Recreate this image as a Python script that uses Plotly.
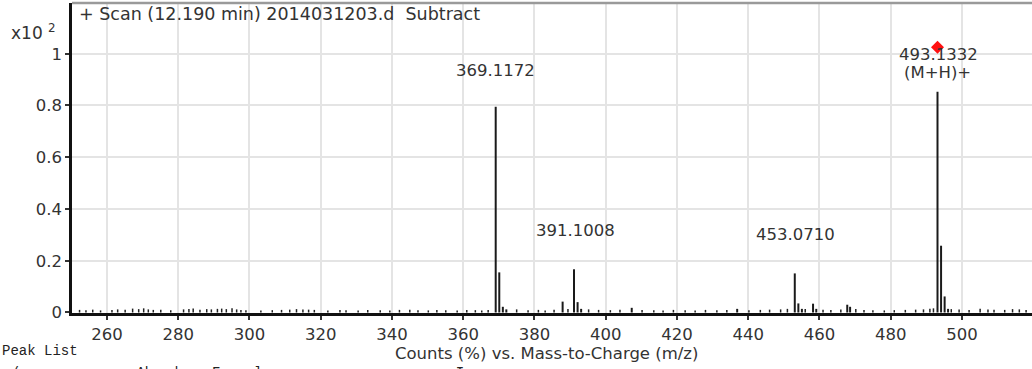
import plotly.graph_objects as go

# ---------------- data ----------------
peak_mz = [369.1172, 370.1205, 371.12, 372.1, 387.9, 391.1008, 392.104, 393.1,
           407.3, 436.9, 453.0710, 454.074, 455.07, 458.2, 459.1, 467.8, 468.6,
           493.1332, 494.1365, 495.135, 496.1]
peak_abund = [0.795, 0.155, 0.022, 0.012, 0.042, 0.167, 0.040, 0.014,
              0.018, 0.014, 0.151, 0.035, 0.014, 0.034, 0.014, 0.030, 0.022,
              0.853, 0.258, 0.062, 0.014]

noise_mz = [252.3, 254.1, 256.0, 258.2, 261.4, 263.0, 265.1, 267.2, 268.9, 270.3,
            271.6, 273.0, 275.1, 277.9, 281.5, 283.0, 284.2, 286.1, 288.0, 289.3,
            291.0, 292.2, 293.5, 295.1, 296.4, 297.6, 299.0, 303.2, 306.4, 309.0,
            311.3, 313.2, 315.0, 316.6, 318.2, 322.0, 325.4, 327.1, 330.5, 333.2,
            336.7, 339.4, 342.1, 345.0, 347.3, 350.2, 352.6, 355.1, 358.3, 361.0,
            363.4, 365.2, 367.0, 375.0, 378.2, 381.1, 383.0, 385.5, 389.4, 395.2,
            398.0, 401.3, 404.0, 410.2, 413.5, 416.1, 419.0, 422.3, 425.1, 428.0,
            431.2, 434.0, 440.2, 443.4, 446.0, 449.1, 451.0, 456.0, 461.0, 463.2,
            466.0, 470.2, 472.5, 475.0, 478.2, 481.0, 484.1, 487.0, 489.2, 491.0,
            492.0, 497.0, 499.2, 502.0, 505.1, 507.3, 509.0, 512.0, 514.2, 516.1, 518.0]
noise_abund = [0.010, 0.009, 0.011, 0.008, 0.010, 0.012, 0.011, 0.015, 0.013, 0.016,
               0.012, 0.010, 0.011, 0.009, 0.012, 0.013, 0.015, 0.011, 0.013, 0.012,
               0.014, 0.015, 0.013, 0.016, 0.012, 0.010, 0.009, 0.008, 0.009, 0.010,
               0.011, 0.013, 0.012, 0.011, 0.010, 0.008, 0.010, 0.009, 0.008, 0.010,
               0.009, 0.008, 0.010, 0.011, 0.009, 0.008, 0.010, 0.009, 0.008, 0.010,
               0.009, 0.008, 0.010, 0.012, 0.009, 0.010, 0.008, 0.011, 0.013, 0.012,
               0.010, 0.009, 0.011, 0.010, 0.009, 0.008, 0.010, 0.009, 0.008, 0.010,
               0.009, 0.010, 0.009, 0.010, 0.011, 0.012, 0.014, 0.013, 0.011, 0.010,
               0.012, 0.013, 0.010, 0.009, 0.008, 0.009, 0.010, 0.011, 0.012, 0.014,
               0.016, 0.013, 0.012, 0.010, 0.014, 0.012, 0.011, 0.010, 0.013, 0.012, 0.010]

labels_mz = [369.1172, 391.1008, 453.0710, 493.1332, 493.1332]
labels_abund = [0.795, 0.167, 0.151, 0.853, 0.853]
labels_text = ["369.1172", "391.1008", "453.0710", "493.1332", "(M+H)+"]
labels_xshift = [0, 1, 1, 1, 0]
labels_yshift = [25, 27, 27, 26, 8]

marker_mz = [493.1332]
marker_abund = [1.025]

x_ticks = [260, 280, 300, 320, 340, 360, 380, 400, 420, 440, 460, 480, 500]
y_ticks = [0, 0.2, 0.4, 0.6, 0.8, 1]
y_ticklabels = ["0", "0.2", "0.4", "0.6", "0.8", "1"]

title_text = "+ Scan (12.190 min) 2014031203.d  Subtract"
xaxis_title = "Counts (%) vs. Mass-to-Charge (m/z)"

# ---------------- figure ----------------
FONT = "DejaVu Sans, Liberation Sans, Arial, sans-serif"
TXT = "#333333"


def sticks(mz, ab):
    xs, ys = [], []
    for m, a in zip(mz, ab):
        xs += [m, m, None]
        ys += [0, a, None]
    return xs, ys


fig = go.Figure()
nx, ny = sticks(noise_mz, noise_abund)
fig.add_trace(go.Scatter(x=nx, y=ny, mode="lines",
                         line=dict(color="#222222", width=1.5), hoverinfo="skip",
                         showlegend=False))
px_, py_ = sticks(peak_mz, peak_abund)
fig.add_trace(go.Scatter(x=px_, y=py_, mode="lines",
                         line=dict(color="#1a1a1a", width=2), hoverinfo="skip",
                         showlegend=False))
fig.add_trace(go.Scatter(x=marker_mz, y=marker_abund, mode="markers",
                         marker=dict(symbol="diamond", color="#ff1010", size=10),
                         showlegend=False, hoverinfo="skip"))

for m, a, t, xs, ys in zip(labels_mz, labels_abund, labels_text, labels_xshift,
                           labels_yshift):
    fig.add_annotation(x=m, y=a, text=t, showarrow=False, xshift=xs,
                       yanchor="bottom", yshift=ys,
                       font=dict(family=FONT, size=16.5, color=TXT))

# title inside plot
fig.add_annotation(xref="paper", yref="paper", x=0.005, y=0.9645, text=title_text,
                   showarrow=False, xanchor="left", yanchor="middle",
                   font=dict(family=FONT, size=17.5, color=TXT))
# y multiplier
fig.add_annotation(xref="paper", yref="paper", x=-0.066, y=0.905,
                   text="x10 <sup>2</sup>", showarrow=False, xanchor="left",
                   yanchor="middle", font=dict(family=FONT, size=17, color=TXT))
# x axis title
fig.add_annotation(xref="paper", yref="paper", x=0.494, y=-0.13, text=xaxis_title,
                   showarrow=False, xanchor="center", yanchor="middle",
                   font=dict(family=FONT, size=16.5, color=TXT))
# Peak list header
fig.add_annotation(xref="paper", yref="paper", x=-0.075, y=-0.122, text="Peak List",
                   showarrow=False, xanchor="left", yanchor="middle",
                   font=dict(family="Liberation Mono, Courier New, monospace",
                             size=14, color="#222222"))
fig.add_annotation(xref="paper", yref="paper", x=-0.075, y=-0.162,
                   text="m/z          z  Abund    Formula                      Ion",
                   showarrow=False, xanchor="left", yanchor="top",
                   font=dict(family="Liberation Mono, Courier New, monospace",
                             size=14, color="#222222"))

# top border
fig.add_shape(type="line", xref="paper", yref="paper", x0=0, x1=1, y0=1, y1=1,
              line=dict(color="#9a9a9a", width=2.5))

fig.update_xaxes(range=[250.18, 519.66], tickvals=x_ticks,
                 showgrid=True, gridcolor="#e4e4e4", gridwidth=2,
                 showline=True, linecolor="#111111", linewidth=3,
                 ticks="outside", ticklen=4, tickcolor="#333", tickwidth=1.5,
                 tickfont=dict(family=FONT, size=16.5, color=TXT), zeroline=False)
fig.update_yaxes(range=[-0.002, 1.196], tickvals=y_ticks, ticktext=y_ticklabels,
                 showgrid=True, gridcolor="#e4e4e4", gridwidth=2,
                 showline=True, linecolor="#111111", linewidth=2.5,
                 ticks="outside", ticklen=4, tickcolor="#333", tickwidth=1.5,
                 tickfont=dict(family=FONT, size=16.5, color=TXT), zeroline=False)

fig.update_layout(width=1032, height=369, margin=dict(l=72, r=0, t=3, b=56),
                  plot_bgcolor="white", paper_bgcolor="white")

fig.write_html("out.html")
